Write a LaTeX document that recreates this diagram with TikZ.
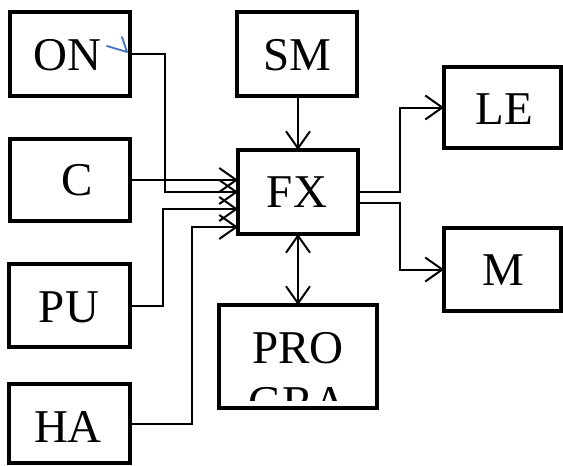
\documentclass[tikz,border=0pt]{standalone}
\usepackage{fontspec}
\setmainfont{Liberation Serif}
\usetikzlibrary{arrows.meta}
\definecolor{markblue}{RGB}{68,114,196}
\begin{document}
\begin{tikzpicture}[x=1pt,y=-1pt,
  box/.style={draw,line width=4.5pt,rectangle,inner sep=0pt,outer sep=0pt},
  lbl/.style={anchor=base,inner sep=0pt,font=\fontsize{47}{55}\selectfont},
  conn/.style={line width=2pt,-{Straight Barb[length=17pt,width=24pt]}},
  plain/.style={line width=2pt}]
\useasboundingbox (0,0) rectangle (563,466);
% boxes
\node[box,minimum width=120pt,minimum height=84pt] (ON) at (70,54) {};
\node[box,minimum width=120pt,minimum height=82pt] (C) at (70,180) {};
\node[box,minimum width=121pt,minimum height=83pt] (PU) at (69.5,305.5) {};
\node[box,minimum width=121pt,minimum height=79pt] (HA) at (69.5,423.5) {};
\node[box,minimum width=120pt,minimum height=84pt] (SM) at (297,54) {};
\node[box,minimum width=120pt,minimum height=84pt] (FX) at (298,192) {};
\node[box,minimum width=117pt,minimum height=81pt] (LE) at (502.5,107.5) {};
\node[box,minimum width=117pt,minimum height=83pt] (M) at (502.5,269.5) {};
\node[box,minimum width=158pt,minimum height=103pt] (PRO) at (298,356.5) {};
% labels
\node[lbl] (tON) at (67.5,70) {ON};
\node[lbl] (tC) at (77,195) {C};
\node[lbl] (tPU) at (69,322) {PU};
\node[lbl] (tHA) at (68,442) {HA};
\node[lbl] (tSM) at (297.5,70) {SM};
\node[lbl] (tFX) at (297,207) {FX};
\node[lbl] (tLE) at (504,124) {LE};
\node[lbl] (tM) at (503,285) {M};
\begin{scope}
\clip (221,307) rectangle (375,400);
\node[lbl] (tPRO) at (298,363) {PRO};
\node[lbl] (tGRA) at (298,418) {GRA};
\end{scope}
% blue mark
\draw[markblue,line width=1.8pt,line cap=round,line join=round] (107,46) -- (127,52) -- (122,37);
% connectors into FX
\draw[conn] (ON.east) -| (165,192) -- (FX.west);
\draw[conn] (C.east) -- ([yshift=12pt]FX.west);
\draw[conn] (PU.east) -| (163,209) -- ([yshift=-17pt]FX.west);
\draw[conn] (HA.east) -| (192,227) -- ([yshift=-35pt]FX.west);
\draw[conn] (SM.south -| FX.north) -- (FX.north);
\draw[line width=2pt,{Straight Barb[length=17pt,width=24pt]}-{Straight Barb[length=17pt,width=24pt]}] (FX.south) -- (PRO.north);
% out of FX
\draw[conn] (FX.east) -| (400,107.5) -- (LE.west);
\draw[conn] ([yshift=-11pt]FX.east) -| (400,269.5) -- (M.west);
\end{tikzpicture}
\end{document}
